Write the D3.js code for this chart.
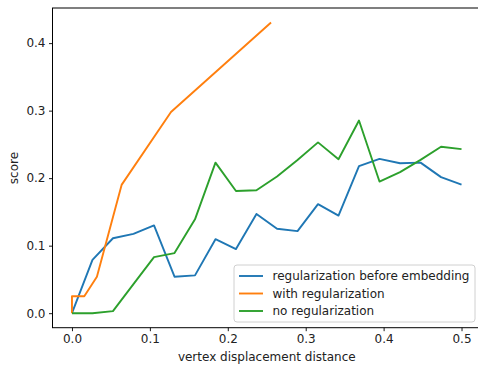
<!DOCTYPE html>
<html>
<head>
<meta charset="utf-8">
<script src="https://cdn.jsdelivr.net/npm/d3@7"></script>
<style>
  body { margin: 0; background: #fff; }
  svg { font-family: "DejaVu Sans", sans-serif; }
</style>
</head>
<body>
<div id="chart"></div>
<script>
// 20 evenly spaced displacement values for the blue and green runs
const xEven = [0, 0.0263, 0.0526, 0.0789, 0.1053, 0.1316, 0.1579, 0.1842, 0.2105, 0.2368,
  0.2632, 0.2895, 0.3158, 0.3421, 0.3684, 0.3947, 0.4211, 0.4474, 0.4737, 0.5];
const beforeEmbedding = [0, 0.079, 0.111, 0.1175, 0.13, 0.054, 0.056, 0.1096, 0.095, 0.147,
  0.125, 0.1215, 0.1615, 0.1446, 0.2178, 0.2286, 0.222, 0.223, 0.2015, 0.1905];
const noReg = [0, 0, 0.003, 0.043, 0.083, 0.089, 0.139, 0.223, 0.181, 0.182,
  0.2025, 0.227, 0.253, 0.228, 0.2853, 0.195, 0.209, 0.227, 0.2464, 0.243];
// orange run uses its own x positions
const xReg = [0, 0, 0.0158, 0.032, 0.0637, 0.1271, 0.2555];
const withReg = [0, 0.025, 0.025, 0.054, 0.19, 0.298, 0.4305];

const xTicks = [0, 0.1, 0.2, 0.3, 0.4, 0.5];
const yTicks = [0, 0.1, 0.2, 0.3, 0.4];

const series = [
  { name: 'regularization before embedding', color: '#1f77b4', xs: xEven, ys: beforeEmbedding },
  { name: 'with regularization', color: '#ff7f0e', xs: xReg, ys: withReg },
  { name: 'no regularization', color: '#2ca02c', xs: xEven, ys: noReg }
];

const width = 478, height = 365;
const margin = { top: 8, right: -3, bottom: 37.3, left: 52.5 };
const fontSize = 12;

const svg = d3.select('#chart').append('svg')
  .attr('width', width)
  .attr('height', height);

const x = d3.scaleLinear()
  .domain([-0.025, 0.525])
  .range([margin.left, width - margin.right]);

const y = d3.scaleLinear()
  .domain([-0.0215, 0.452])
  .range([height - margin.bottom, margin.top]);

// axes
const xAxis = svg.append('g')
  .attr('transform', `translate(0,${height - margin.bottom})`)
  .call(d3.axisBottom(x).tickValues(xTicks).tickFormat(d3.format('.1f')).tickSize(3.5).tickPadding(3.5).tickSizeOuter(0));

const yAxis = svg.append('g')
  .attr('transform', `translate(${margin.left},0)`)
  .call(d3.axisLeft(y).tickValues(yTicks).tickFormat(d3.format('.1f')).tickSize(3.5).tickPadding(3.5).tickSizeOuter(0));

[xAxis, yAxis].forEach(a => {
  a.selectAll('text').attr('font-size', fontSize).attr('fill', '#222').attr('font-family', '"DejaVu Sans", sans-serif');
  a.selectAll('line').attr('stroke', '#000').attr('stroke-width', 0.9);
  a.select('.domain').remove();
});

// frame
svg.append('rect')
  .attr('x', margin.left)
  .attr('y', margin.top)
  .attr('width', x.range()[1] - margin.left)
  .attr('height', y.range()[0] - margin.top)
  .attr('fill', 'none')
  .attr('stroke', '#000')
  .attr('stroke-width', 1);

// lines
const line = d3.line().x(d => x(d[0])).y(d => y(d[1]));
series.forEach(s => {
  svg.append('path')
    .datum(s.xs.map((v, i) => [v, s.ys[i]]))
    .attr('fill', 'none')
    .attr('stroke', s.color)
    .attr('stroke-width', 1.9)
    .attr('stroke-linejoin', 'round')
    .attr('d', line);
});

// axis labels
svg.append('text')
  .attr('x', x(0.25))
  .attr('y', 361)
  .attr('text-anchor', 'middle')
  .attr('font-size', fontSize)
  .attr('fill', '#222')
  .text('vertex displacement distance');

svg.append('text')
  .attr('transform', `translate(18,${y(0.215)}) rotate(-90)`)
  .attr('text-anchor', 'middle')
  .attr('font-size', fontSize)
  .attr('fill', '#222')
  .text('score');

// legend
const legend = svg.append('g').attr('transform', 'translate(234,265)');
legend.append('rect')
  .attr('width', 241)
  .attr('height', 57)
  .attr('rx', 3)
  .attr('fill', '#fff')
  .attr('fill-opacity', 0.8)
  .attr('stroke', '#d0d0d0');

series.forEach((s, i) => {
  const g = legend.append('g').attr('transform', `translate(0,${11 + i * 17.5})`);
  g.append('line')
    .attr('x1', 5).attr('x2', 29)
    .attr('stroke', s.color)
    .attr('stroke-width', 1.9);
  g.append('text')
    .attr('x', 38.5)
    .attr('dy', '0.35em')
    .attr('font-size', fontSize)
    .attr('fill', '#222')
    .text(s.name);
});
</script>
</body>
</html>
